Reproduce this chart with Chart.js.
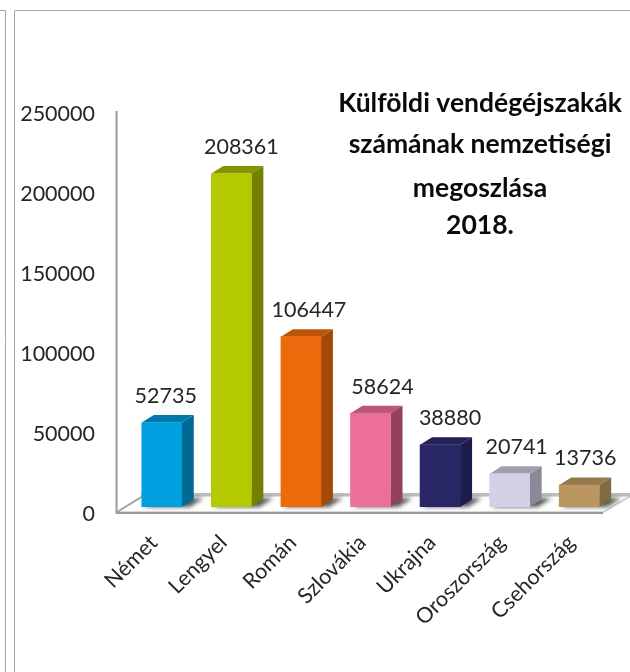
<!DOCTYPE html>
<html><head><meta charset="utf-8">
<style>html,body{margin:0;padding:0;background:#fff}canvas{display:block}</style>
<script src="https://cdn.jsdelivr.net/npm/chart.js@4"></script>
</head><body><canvas id="c" width="630" height="672"></canvas>
<script>
const categories = ["Német","Lengyel","Román","Szlovákia","Ukrajna","Oroszország","Csehország"];
const values = [52735,208361,106447,58624,38880,20741,13736];
const yTicks = [0,50000,100000,150000,200000,250000];
const frontColors = ["#009FDF","#B5C900","#EC6A0C","#EC6F97","#2A2766","#D3D1E6","#BB9662"];
const sideColors = ["#006A92","#748000","#A34A08","#93415F","#1E1C4A","#8A8999","#806A42"];
const topColors = ["#0079A8","#859300","#BC5508","#B9567A","#232158","#A09FB2","#94794C"];
const titleLines = ["Külföldi vendégéjszakák","számának nemzetiségi","megoszlása","2018."];
const labelShift = [4,10,8,12,10,7,6];
const titleY = [103,144,188,225];
const FONT = "Lato, Carlito, sans-serif", TXT = "#262626";

const scene = {
  id:"scene",
  beforeDatasetsDraw(ch){
    const c = ch.ctx, bars = ch.getDatasetMeta(0).data;
    c.save();
    c.strokeStyle="#a6a6a6"; c.lineWidth=1;
    c.beginPath();
    c.moveTo(0,10.5);c.lineTo(5.5,10.5);c.lineTo(5.5,672);
    c.moveTo(14.5,672);c.lineTo(14.5,10.5);c.lineTo(630,10.5);
    c.stroke();
    c.fillStyle="#ffffff"; c.strokeStyle="#b5b5b5"; c.lineWidth=1;
    c.beginPath();c.moveTo(117,512);c.lineTo(603,512);c.lineTo(630,496);c.lineTo(143,496);c.closePath();c.fill();c.stroke();
    c.fillStyle="#bdbdbd"; c.fillRect(141,493,489,3);
    c.strokeStyle="#a0a0a0"; c.lineWidth=2;
    c.beginPath();c.moveTo(117,512);c.lineTo(143,496);c.stroke();
    c.save(); c.filter="blur(2px)"; c.fillStyle="#555555";
    bars.forEach(b=>{
      const r=b.x+20,l=b.x-20,base=b.base;
      c.beginPath();c.moveTo(r,base);c.lineTo(r+8,base);c.lineTo(r+22,498);c.lineTo(l+16,498);c.lineTo(l+2,base);c.closePath();c.fill();
    });
    c.restore();
    c.strokeStyle="#9a9a9a"; c.lineWidth=2;
    c.beginPath();c.moveTo(116.5,111);c.lineTo(116.5,513);c.lineTo(603,513);c.stroke();
    c.strokeStyle="#d6d6d6"; c.lineWidth=1;
    c.beginPath();c.moveTo(603,513);c.lineTo(630,497);c.stroke();
    bars.forEach((b,i)=>{
      const r=b.x+20,l=b.x-20,d=12,u=7.5;
      c.fillStyle=sideColors[i];
      c.beginPath();c.moveTo(r,b.y);c.lineTo(r+d,b.y-u);c.lineTo(r+d,b.base-u);c.lineTo(r,b.base);c.closePath();c.fill();
      c.fillStyle=topColors[i];
      c.beginPath();c.moveTo(l,b.y);c.lineTo(l+d,b.y-u);c.lineTo(r+d,b.y-u);c.lineTo(r,b.y);c.closePath();c.fill();
    });
    c.restore();
  },
  afterDatasetsDraw(ch){
    const c = ch.ctx, bars = ch.getDatasetMeta(0).data;
    c.save();
    c.textAlign="center"; c.textBaseline="middle";
    c.font="21.5px "+FONT; c.fillStyle=TXT;
    bars.forEach((b,i)=>c.fillText(String(values[i]),b.x+labelShift[i],b.y-26.5));
    c.font="bold 26.5px "+FONT; c.fillStyle="#0a0a0a";
    titleLines.forEach((t,i)=>c.fillText(t,480,titleY[i]));
    c.restore();
  }
};

new Chart(document.getElementById("c"),{
  type:"bar",
  data:{labels:categories,datasets:[{data:values,backgroundColor:frontColors,barThickness:40,borderWidth:0}]},
  plugins:[scene],
  options:{
    responsive:false,animation:false,
    layout:{padding:{top:107,right:16,left:0,bottom:0}},
    plugins:{legend:{display:false},tooltip:{enabled:false},title:{display:false}},
    scales:{
      x:{
        grid:{display:false,drawTicks:false},border:{display:false},
        afterFit(s){s.height=165;},
        ticks:{maxRotation:45,minRotation:45,autoSkip:false,padding:23,labelOffset:-8,color:TXT,font:{family:FONT,size:21.5}}
      },
      y:{
        min:0,max:250000,
        afterFit(s){s.width=127;},
        afterBuildTicks(s){s.ticks=yTicks.map(v=>({value:v}));},
        grid:{display:false,drawTicks:false},border:{display:false},
        ticks:{padding:32,labelOffset:7.5,color:TXT,font:{family:FONT,size:21.5},callback:v=>String(v)}
      }
    }
  }
});
</script></body></html>
